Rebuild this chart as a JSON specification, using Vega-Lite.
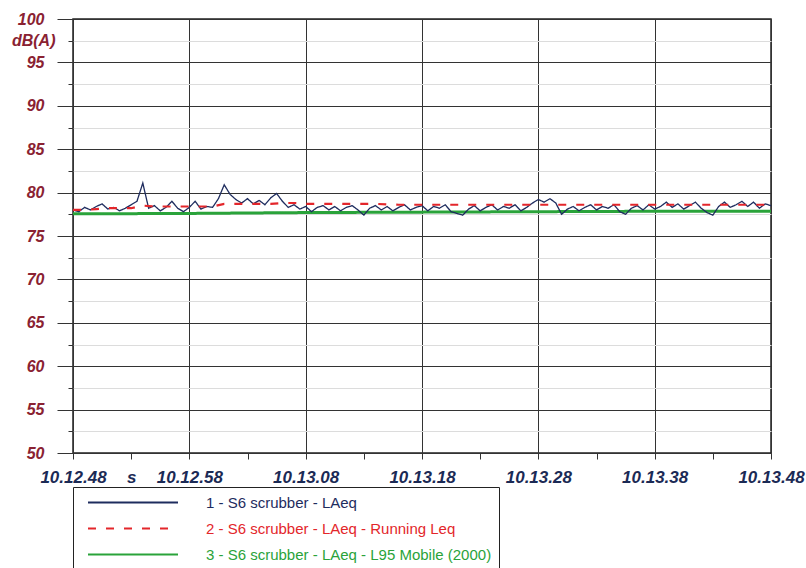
{
  "$schema": "https://vega.github.io/schema/vega-lite/v6.json",
  "width": 698,
  "height": 434,
  "autosize": {"type": "none"},
  "padding": {"left": 73, "top": 19, "right": 35, "bottom": 115},
  "background": "white",
  "config": {"view": {"stroke": "#222", "strokeWidth": 1.5}, "font": "Liberation Sans"},
  "datasets": {
    "laeq": [
      {"t":0,"v":78.0},{"t":0.5,"v":77.8},{"t":1,"v":78.3},{"t":1.5,"v":78.0},{"t":2,"v":78.4},{"t":2.5,"v":78.7},{"t":3,"v":78.1},{"t":3.5,"v":78.3},{"t":4,"v":77.9},{"t":4.5,"v":78.2},
      {"t":5,"v":78.6},{"t":5.5,"v":79.0},{"t":6,"v":81.1},{"t":6.5,"v":78.2},{"t":7,"v":78.5},{"t":7.5,"v":77.9},{"t":8,"v":78.3},{"t":8.5,"v":79.0},{"t":9,"v":78.2},{"t":9.5,"v":77.8},
      {"t":10,"v":78.3},{"t":10.5,"v":79.0},{"t":11,"v":78.1},{"t":11.5,"v":78.4},{"t":12,"v":78.3},{"t":12.5,"v":79.3},{"t":13,"v":80.9},{"t":13.5,"v":79.8},{"t":14,"v":79.2},{"t":14.5,"v":78.8},
      {"t":15,"v":79.3},{"t":15.5,"v":78.7},{"t":16,"v":79.1},{"t":16.5,"v":78.6},{"t":17,"v":79.4},{"t":17.5,"v":79.9},{"t":18,"v":79.0},{"t":18.5,"v":78.3},{"t":19,"v":78.6},{"t":19.5,"v":78.1},
      {"t":20,"v":78.4},{"t":20.5,"v":77.8},{"t":21,"v":78.3},{"t":21.5,"v":78.5},{"t":22,"v":78.0},{"t":22.5,"v":78.4},{"t":23,"v":77.9},{"t":23.5,"v":78.3},{"t":24,"v":78.5},{"t":24.5,"v":78.0},
      {"t":25,"v":77.4},{"t":25.5,"v":78.2},{"t":26,"v":78.5},{"t":26.5,"v":78.0},{"t":27,"v":78.4},{"t":27.5,"v":77.9},{"t":28,"v":78.3},{"t":28.5,"v":78.6},{"t":29,"v":78.0},{"t":29.5,"v":78.3},
      {"t":30,"v":78.5},{"t":30.5,"v":77.9},{"t":31,"v":78.4},{"t":31.5,"v":78.2},{"t":32,"v":78.6},{"t":32.5,"v":77.8},{"t":33,"v":77.6},{"t":33.5,"v":77.4},{"t":34,"v":78.1},{"t":34.5,"v":78.5},
      {"t":35,"v":77.9},{"t":35.5,"v":78.3},{"t":36,"v":78.6},{"t":36.5,"v":78.0},{"t":37,"v":78.4},{"t":37.5,"v":78.2},{"t":38,"v":78.6},{"t":38.5,"v":77.9},{"t":39,"v":78.3},{"t":39.5,"v":78.8},
      {"t":40,"v":79.2},{"t":40.5,"v":78.9},{"t":41,"v":79.3},{"t":41.5,"v":78.8},{"t":42,"v":77.5},{"t":42.5,"v":78.1},{"t":43,"v":78.4},{"t":43.5,"v":77.9},{"t":44,"v":78.3},{"t":44.5,"v":78.6},
      {"t":45,"v":78.0},{"t":45.5,"v":78.4},{"t":46,"v":78.2},{"t":46.5,"v":78.6},{"t":47,"v":77.8},{"t":47.5,"v":77.5},{"t":48,"v":78.2},{"t":48.5,"v":78.5},{"t":49,"v":78.0},{"t":49.5,"v":78.6},
      {"t":50,"v":78.1},{"t":50.5,"v":78.4},{"t":51,"v":78.9},{"t":51.5,"v":78.3},{"t":52,"v":78.7},{"t":52.5,"v":78.1},{"t":53,"v":78.5},{"t":53.5,"v":78.9},{"t":54,"v":78.2},{"t":54.5,"v":77.7},
      {"t":55,"v":77.4},{"t":55.5,"v":78.4},{"t":56,"v":78.9},{"t":56.5,"v":78.3},{"t":57,"v":78.6},{"t":57.5,"v":79.0},{"t":58,"v":78.4},{"t":58.5,"v":78.9},{"t":59,"v":78.2},{"t":59.5,"v":78.7},
      {"t":60,"v":78.5}
    ],
    "running": [
      {"t":0,"v":78.0},{"t":1,"v":78.0},{"t":2,"v":78.1},{"t":3,"v":78.2},{"t":4,"v":78.2},{"t":5,"v":78.2},{"t":6,"v":78.5},{"t":7,"v":78.4},{"t":8,"v":78.4},{"t":9,"v":78.4},
      {"t":10,"v":78.4},{"t":11,"v":78.4},{"t":12,"v":78.4},{"t":13,"v":78.7},{"t":14,"v":78.7},{"t":15,"v":78.7},{"t":16,"v":78.7},{"t":17,"v":78.7},{"t":18,"v":78.8},{"t":19,"v":78.8},
      {"t":20,"v":78.7},{"t":22,"v":78.7},{"t":24,"v":78.7},{"t":26,"v":78.7},{"t":28,"v":78.6},{"t":30,"v":78.6},{"t":32,"v":78.6},{"t":34,"v":78.6},{"t":36,"v":78.6},{"t":38,"v":78.6},
      {"t":40,"v":78.6},{"t":42,"v":78.6},{"t":44,"v":78.6},{"t":46,"v":78.6},{"t":48,"v":78.6},{"t":50,"v":78.6},{"t":52,"v":78.6},{"t":54,"v":78.6},{"t":56,"v":78.6},{"t":58,"v":78.6},{"t":60,"v":78.6}
    ],
    "l95": [
      {"t":0,"v":77.55},{"t":10,"v":77.6},{"t":20,"v":77.7},{"t":30,"v":77.75},{"t":40,"v":77.8},{"t":50,"v":77.85},{"t":60,"v":77.85}
    ]
  },
  "encoding": {
    "x": {
      "field": "t", "type": "quantitative",
      "scale": {"domain": [0, 60], "nice": false, "zero": false},
      "axis": {
        "title": null, "domain": false,
        "values": [0,5,10,15,20,25,30,35,40,45,50,55,60],
        "labelExpr": "datum.value % 10 == 0 ? '10.' + floor((768 + datum.value) / 60) + '.' + (((768 + datum.value) % 60) < 10 ? '0' : '') + ((768 + datum.value) % 60) : (datum.value == 5 ? 's' : '')",
        "labelOverlap": false, "labelFlush": false, "labelBound": false,
        "labelFont": "Liberation Sans", "labelFontStyle": "italic", "labelFontWeight": "bold", "labelFontSize": 17,
        "labelColor": "#1b2a55", "labelPadding": 10,
        "tickSize": 6, "tickColor": "#333", "tickWidth": 1,
        "grid": true, "gridColor": "#333", "gridWidth": 1,
        "gridOpacity": {"condition": {"test": "datum.value % 10 == 0", "value": 1}, "value": 0}
      }
    },
    "y": {
      "field": "v", "type": "quantitative",
      "scale": {"domain": [50, 100], "nice": false, "zero": false},
      "axis": {
        "title": null, "domain": false,
        "values": [50,52.5,55,57.5,60,62.5,65,67.5,70,72.5,75,77.5,80,82.5,85,87.5,90,92.5,95,97.5,100],
        "labelExpr": "datum.value == 97.5 ? 'dB(A)' : (datum.value % 5 == 0 ? datum.label : '')",
        "labelOverlap": false, "labelFlush": false, "labelBound": false,
        "labelFont": "Liberation Sans", "labelFontStyle": "italic", "labelFontWeight": "bold", "labelFontSize": 16,
        "labelColor": "#8a2232", "labelPadding": 13,
        "tickSize": {"condition": {"test": "datum.value % 5 == 0", "value": 16}, "value": 5},
        "tickColor": "#333", "tickWidth": 1,
        "grid": true, "gridWidth": 1,
        "gridColor": {"condition": {"test": "datum.value % 5 == 0", "value": "#333"}, "value": "#dcdcdc"}
      }
    }
  },
  "layer": [
    {
      "data": {"name": "l95"},
      "mark": {"type": "line", "strokeWidth": 3},
      "encoding": {
        "color": {"datum": "3 - S6 scrubber - LAeq - L95 Mobile (2000)", "type": "nominal",
          "scale": {"domain": ["1 - S6 scrubber - LAeq", "2 - S6 scrubber - LAeq - Running Leq", "3 - S6 scrubber - LAeq - L95 Mobile (2000)"], "range": ["#1e2c5e", "#e3262b", "#2aa33a"]},
          "legend": {"orient": "none", "legendX": 0, "legendY": 468, "title": null, "symbolType": "stroke", "symbolSize": 8100, "symbolStrokeWidth": 2, "symbolOffset": 7, "labelOffset": 27, "rowPadding": 9, "padding": 7, "clipHeight": 17, "strokeColor": "#222", "fillColor": "white", "labelFont": "Liberation Sans", "labelFontSize": 15, "labelLimit": 900,
            "labelExpr": "pad(datum.label, 108, '\u00a0')",
            "encode": {"labels": {"update": {"fill": {"scale": "color", "field": "value"}}}}}},
        "strokeDash": {"datum": "3 - S6 scrubber - LAeq - L95 Mobile (2000)", "type": "nominal",
          "scale": {"domain": ["1 - S6 scrubber - LAeq", "2 - S6 scrubber - LAeq - Running Leq", "3 - S6 scrubber - LAeq - L95 Mobile (2000)"], "range": [[1, 0], [8, 10], [1, 0]]}}
      }
    },
    {
      "data": {"name": "laeq"},
      "mark": {"type": "line", "strokeWidth": 1.3},
      "encoding": {
        "color": {"datum": "1 - S6 scrubber - LAeq", "type": "nominal"},
        "strokeDash": {"datum": "1 - S6 scrubber - LAeq", "type": "nominal"}
      }
    },
    {
      "data": {"name": "running"},
      "mark": {"type": "line", "strokeWidth": 2.2},
      "encoding": {
        "color": {"datum": "2 - S6 scrubber - LAeq - Running Leq", "type": "nominal"},
        "strokeDash": {"datum": "2 - S6 scrubber - LAeq - Running Leq", "type": "nominal"}
      }
    }
  ]
}
